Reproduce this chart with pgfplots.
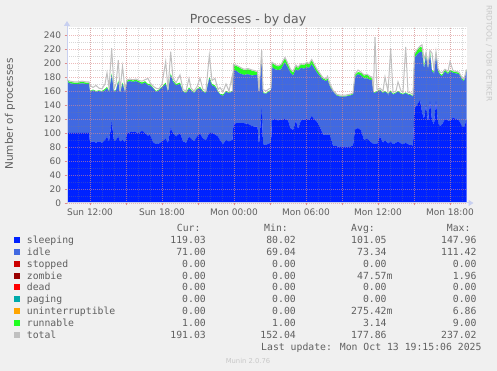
\documentclass[border=0pt]{standalone}
\usepackage{pgfplots}
\pgfplotsset{compat=1.18}
\usepackage{pgfplotstable}
\usepackage{fontspec}
\setmainfont{DejaVu Sans}
\newfontfamily\monofont{DejaVu Sans Mono}
\usetikzlibrary{arrows.meta}
\definecolor{bg}{HTML}{F0F0F0}
\definecolor{csleep}{HTML}{0022FF}
\definecolor{cidle}{HTML}{4169E1}
\definecolor{cstop}{HTML}{CC0000}
\definecolor{czomb}{HTML}{990000}
\definecolor{cdead}{HTML}{FF0000}
\definecolor{cpag}{HTML}{00AAAA}
\definecolor{cunint}{HTML}{FFA500}
\definecolor{crun}{HTML}{22FF22}
\definecolor{ctot}{HTML}{C0C0C0}
\definecolor{txt}{HTML}{606060}
\definecolor{axcol}{HTML}{C8D0F0}
\definecolor{mgrid}{HTML}{E08C8C}

% h = hours since Sun 00:00; S sleeping, I idle, R runnable, G total
\pgfplotstableread{
h S I R G
10.083 100 73 2 176
10.333 100 71 2 174
10.667 100 70 2 173
11.000 100 70 2 173
11.333 100 71 2 174
11.667 100 70 2 173
11.917 100 70 2 173
12.000 87 72 1 168
12.250 88 73 1 165
12.500 86 73 1 168
12.750 88 72 1 164
13.000 86 73 1 163
13.250 90 71 2 170
13.417 95 69 2 186
13.583 88 71 1 165
13.808 116 67 2 221
14.000 88 71 1 163
14.167 90 71 1 170
14.358 95 78 2 204
14.500 88 69 1 160
14.708 90 80 2 195
14.917 87 72 1 162
15.083 100 73 2 176
15.333 101 73 2 177
15.583 102 71 2 176
15.833 101 73 2 177
16.083 100 72 2 175
16.333 103 67 2 174
16.583 100 72 2 176
16.833 96 72 2 178
17.000 98 70 2 172
17.250 87 77 1 167
17.500 84 75 1 164
17.750 85 76 1 163
18.000 88 77 1 170
18.308 92 78 2 202
18.500 86 73 1 162
18.725 107 76 2 216
18.917 100 73 2 178
19.167 95 73 2 172
19.500 100 70 2 183
19.750 88 71 1 162
20.000 86 71 1 160
20.250 95 68 2 178
20.417 92 69 1 164
20.667 88 69 1 160
20.917 95 67 1 166
21.167 99 65 2 178
21.417 92 67 1 162
21.667 90 67 1 161
21.942 100 78 2 211
22.167 100 68 2 175
22.417 98 68 2 178
22.667 95 64 1 162
22.833 90 65 1 165
23.083 84 69 2 159
23.333 90 69 1 170
23.583 88 69 1 160
23.833 90 69 1 180
23.875 90 69 1 161
23.958 113 78 6 198
24.167 114 75 7 197
24.500 114 71 8 194
24.833 114 69 7 191
25.167 113 71 7 192
25.500 110 72 7 190
25.750 109 74 5 189
25.958 109 74 4 188
26.083 83 75 1 160
26.308 135 73 2 219
26.417 84 73 1 162
26.667 83 73 1 160
26.917 85 74 1 163
27.083 86 75 1 164
27.167 118 76 6 201
27.417 120 71 6 198
27.667 118 72 5 196
27.917 119 72 6 198
28.250 120 81 6 208
28.500 118 75 5 199
28.708 107 79 4 191
28.917 104 78 4 188
29.167 118 73 5 197
29.333 106 83 4 194
29.583 118 75 5 199
29.833 119 73 5 198
30.083 120 74 6 201
30.250 118 75 5 199
30.475 124 74 6 205
30.667 120 73 5 199
30.917 116 70 4 191
31.167 108 73 3 185
31.417 98 78 2 179
31.667 97 77 2 177
31.792 97 79 2 181
32.000 97 69 2 170
32.250 82 77 1 161
32.583 81 72 1 155
32.917 80 72 1 154
33.250 81 71 1 154
33.583 80 73 1 155
33.917 82 73 1 157
34.083 105 75 3 184
34.333 107 77 3 190
34.583 104 78 4 187
34.833 90 88 4 183
35.083 92 86 5 184
35.333 88 88 4 181
35.500 86 90 2 180
35.625 84 74 1 160
35.750 85 72 1 237
35.917 84 75 1 162
36.167 95 66 1 164
36.417 86 71 1 160
36.583 90 69 1 180
36.833 85 71 1 159
37.058 88 71 1 221
37.250 84 71 1 158
37.500 86 71 1 160
37.667 88 71 1 173
37.917 85 71 1 160
38.083 84 71 1 158
38.308 86 71 1 223
38.500 84 71 1 158
38.750 83 71 1 157
38.917 82 70 1 155
39.042 135 72 5 213
39.250 140 72 6 219
39.500 147 69 7 224
39.667 130 86 6 226
39.833 120 72 3 205
40.000 140 70 4 215
40.167 115 77 3 197
40.333 145 68 4 218
40.500 118 70 2 214
40.667 112 74 2 190
40.833 145 67 3 216
41.000 115 73 2 192
41.167 110 73 2 187
41.333 112 69 2 186
41.583 120 68 2 191
41.833 118 66 2 188
42.000 117 71 2 202
42.250 122 64 2 189
42.500 120 65 2 188
42.750 118 66 2 187
43.000 110 66 2 179
43.167 108 66 2 177
43.375 119 70 1 191
}\proc

\newcommand{\legrow}[7]{%
  \fill[#2] (14bp,#1bp+0.5bp) rectangle (20bp,#1bp+6.5bp);
  \node[anchor=base west,inner sep=0pt,text=txt] at (26.7bp,#1bp) {\monofont\fontsize{9.8bp}{11bp}\selectfont #3};
  \node[anchor=base east,inner sep=0pt,text=txt] at (206bp,#1bp) {\monofont\fontsize{9.8bp}{11bp}\selectfont #4};
  \node[anchor=base east,inner sep=0pt,text=txt] at (296bp,#1bp) {\monofont\fontsize{9.8bp}{11bp}\selectfont #5};
  \node[anchor=base east,inner sep=0pt,text=txt] at (392.7bp,#1bp) {\monofont\fontsize{9.8bp}{11bp}\selectfont #6};
  \node[anchor=base east,inner sep=0pt,text=txt] at (476.7bp,#1bp) {\monofont\fontsize{9.8bp}{11bp}\selectfont #7};
}

\begin{document}
\begin{tikzpicture}
\fill[bg] (0,0) rectangle (497bp,371bp);
\useasboundingbox (0,0) rectangle (497bp,371bp);
\begin{axis}[
  at={(67bp,168bp)}, anchor=south west, scale only axis,
  width=399.5bp, height=176bp,
  xmin=10.083, xmax=43.375, ymin=0, ymax=251.4,
  stack plots=y,
  axis background/.style={fill=white},
  axis on top,
  axis lines*=left,
  axis line style={axcol, line width=1bp},
  x axis line style={-{Triangle[length=5bp,width=6bp]}, shorten >=-7bp},
  y axis line style={-{Triangle[length=5bp,width=6bp]}, shorten >=-6bp},
  xtick={12,15,...,42},
  xticklabels={Sun 12:00,,Sun 18:00,,Mon 00:00,,Mon 06:00,,Mon 12:00,,Mon 18:00},
  minor xtick={10,11,...,43},
  ytick={0,20,...,240},
  minor ytick={10,30,...,250},
  grid=both,
  major grid style={mgrid, opacity=0.6, dash pattern=on 0.8bp off 1.2bp, line width=0.6bp},
  minor grid style={gray, opacity=0.3, dash pattern=on 0.8bp off 1.2bp, line width=0.6bp},
  tick align=outside,
  major tick length=2.5bp, minor tick length=0pt,
  tick style={mgrid, line width=0.7bp},
  ticklabel style={font=\fontsize{9bp}{10bp}\selectfont, text=txt},
  /pgf/number format/assume math mode=true,
]
\addplot[fill=csleep, draw=none] table[x=h,y=S]{\proc} \closedcycle;
\addplot[fill=cidle, draw=none] table[x=h,y=I]{\proc} \closedcycle;
\addplot[fill=crun, draw=none] table[x=h,y=R]{\proc} \closedcycle;
\end{axis}
\begin{axis}[
  at={(67bp,168bp)}, anchor=south west, scale only axis,
  width=399.5bp, height=176bp,
  xmin=10.083, xmax=43.375, ymin=0, ymax=251.4,
  hide axis, clip=true,
]
\addplot[ctot, line width=1bp] table[x=h,y=G]{\proc};
\end{axis}
% title and labels
\node[anchor=base,inner sep=0pt,text=txt] at (248bp,347.5bp) {\fontsize{12.5bp}{14bp}\selectfont Processes - by day};
\node[rotate=90,inner sep=0pt,text=txt] at (10bp,257bp) {\fontsize{10.5bp}{12bp}\selectfont Number of processes};
\node[rotate=-90,inner sep=0pt,text={rgb,255:red,200;green,200;blue,200}] at (489bp,317.5bp) {\fontsize{7.5bp}{9bp}\selectfont RRDTOOL / TOBI OETIKER};
% legend
\node[anchor=base west,inner sep=0pt,text=txt] at (176.7bp,139.4bp) {\monofont\fontsize{9.8bp}{11bp}\selectfont Cur:};
\node[anchor=base west,inner sep=0pt,text=txt] at (264bp,139.4bp) {\monofont\fontsize{9.8bp}{11bp}\selectfont Min:};
\node[anchor=base west,inner sep=0pt,text=txt] at (351bp,139.4bp) {\monofont\fontsize{9.8bp}{11bp}\selectfont Avg:};
\node[anchor=base west,inner sep=0pt,text=txt] at (446.7bp,139.4bp) {\monofont\fontsize{9.8bp}{11bp}\selectfont Max:};
\legrow{127.5}{csleep}{sleeping}{119.03}{80.02}{101.05\phantom{m}}{147.96}
\legrow{115.6}{cidle}{idle}{71.00}{69.04}{73.34\phantom{m}}{111.42}
\legrow{103.8}{cstop}{stopped}{0.00}{0.00}{0.00\phantom{m}}{0.00}
\legrow{91.9}{czomb}{zombie}{0.00}{0.00}{47.57m}{1.96}
\legrow{80.0}{cdead}{dead}{0.00}{0.00}{0.00\phantom{m}}{0.00}
\legrow{68.2}{cpag}{paging}{0.00}{0.00}{0.00\phantom{m}}{0.00}
\legrow{56.3}{cunint}{uninterruptible}{0.00}{0.00}{275.42m}{6.86}
\legrow{44.4}{crun}{runnable}{1.00}{1.00}{3.14\phantom{m}}{9.00}
\legrow{32.6}{ctot}{total}{191.03}{152.04}{177.86\phantom{m}}{237.02}
\node[anchor=base east,inner sep=0pt,text=txt] at (481.7bp,20.5bp) {\monofont\fontsize{9.8bp}{11bp}\selectfont Last update: Mon Oct 13 19:15:06 2025};
\node[anchor=base,inner sep=0pt,text={rgb,255:red,200;green,200;blue,200}] at (248bp,8bp) {\fontsize{6.8bp}{8bp}\selectfont Munin 2.0.76};
\end{tikzpicture}
\end{document}
